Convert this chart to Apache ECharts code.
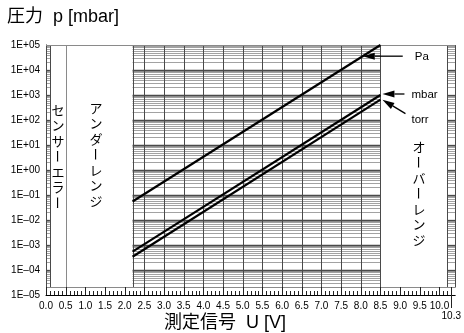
<!DOCTYPE html>
<html>
<head>
<meta charset="utf-8">
<script src="https://cdn.jsdelivr.net/npm/echarts@6/dist/echarts.min.js"></script>
<style>
  html, body { margin: 0; padding: 0; background: #fff; }
  #chart { width: 464px; height: 333px; }
</style>
</head>
<body>
<div id="chart"></div>
<script>
// Characteristic curves: measuring signal U [V] vs. pressure (end points of each line)
const signalU      = [2.2, 8.5];
const pressurePa   = [0.055, 1e5];
const pressureMbar = [5.4e-4, 1000];
const pressureTorr = [3.4e-4, 650];

// Axis tick labels
const xTickValues = [0, 0.5, 1, 1.5, 2, 2.5, 3, 3.5, 4, 4.5, 5, 5.5, 6, 6.5, 7, 7.5, 8, 8.5, 9, 9.5, 10, 10.3];
const xTickLabels = ['0.0', '0.5', '1.0', '1.5', '2.0', '2.5', '3.0', '3.5', '4.0', '4.5', '5.0', '5.5',
                     '6.0', '6.5', '7.0', '7.5', '8.0', '8.5', '9.0', '9.5', '10.0', '10.3'];
const yTickExponents = [-5, -4, -3, -2, -1, 0, 1, 2, 3, 4, 5];
const yTickLabels = ['1E–05', '1E–04', '1E–03', '1E–02', '1E–01', '1E+00',
                     '1E+01', '1E+02', '1E+03', '1E+04', '1E+05'];

// Measuring ranges along U
const sensorErrorEnd = 0.5;
const measureRange = [2.2, 8.5];
const gridStrips = [[0, 0.1], [2.2, 8.5], [10.2, 10.4]];
const uMax = 10.4;
const pMin = 1e-5, pMax = 1e5, pBox = 2e-5;

const FONT_LATIN = '"Liberation Sans Narrow", "Liberation Sans", Arial, sans-serif';
const FONT_JP = '"Liberation Sans", "Noto Sans CJK JP", sans-serif';

const chart = echarts.init(document.getElementById('chart'), null, { renderer: 'canvas' });

function lerpLog(us, ps, u) {
  const t = (u - us[0]) / (us[1] - us[0]);
  return Math.pow(10, Math.log10(ps[0]) + t * (Math.log10(ps[1]) - Math.log10(ps[0])));
}

// Grid pattern, border box and x-axis ticks
function renderGrid(params, api) {
  const ch = [];
  const P = (u, p) => api.coord([u, p]);
  const crisp = v => Math.round(v) + 0.5;
  const hline = (u0, u1, p, color, w) => {
    const a = P(u0, p), b = P(u1, p), y = crisp(a[1]);
    ch.push({ type: 'line', shape: { x1: a[0], y1: y, x2: b[0], y2: y },
              style: { stroke: color, lineWidth: w } });
  };
  const vline = (u, p0, p1, color, w) => {
    const a = P(u, p0), b = P(u, p1), x = crisp(a[0]);
    ch.push({ type: 'line', shape: { x1: x, y1: a[1], x2: x, y2: b[1] },
              style: { stroke: color, lineWidth: w } });
  };
  const minorColor = '#a2a2a2', majorColor = '#4a4a4a';
  gridStrips.forEach(([u0, u1]) => {
    for (let e = -5; e < 5; e++) {
      for (let k = 2; k <= 9; k++) {
        const p = k * Math.pow(10, e);
        if (p <= pBox) continue;
        hline(u0, u1, p, minorColor, 1);
      }
    }
    for (let e = -4; e < 5; e++) hline(u0, u1, Math.pow(10, e), majorColor, 1.3);
    vline(u0, pBox, pMax, majorColor, 1);
    vline(u1, pBox, pMax, majorColor, 1);
  });
  for (let u = 2.5; u < measureRange[1]; u += 0.5) vline(u, pBox, pMax, majorColor, 1);
  vline(sensorErrorEnd, pBox, pMax, '#8a8a8a', 1);
  hline(0, uMax, pMax, '#8a8a8a', 1);
  hline(0, uMax, pBox, '#8a8a8a', 1);

  // x-axis ticks every 0.1 V, longer every 0.5 V
  for (let i = 0; i <= 103; i++) {
    const a = P(i / 10, pMin), x = crisp(a[0]);
    const len = i % 5 === 0 ? 8 : 4;
    ch.push({ type: 'line', shape: { x1: x, y1: a[1], x2: x, y2: a[1] - len },
              style: { stroke: '#222', lineWidth: 1 } });
  }
  const e = P(10.3, pMin), xe = crisp(e[0]);
  ch.push({ type: 'line', shape: { x1: xe, y1: e[1] - 8, x2: xe, y2: e[1] + 13 },
            style: { stroke: '#222', lineWidth: 1 } });
  return { type: 'group', children: ch };
}

// Arrows pointing at the curves
const annotations = [
  { text: 'Pa',   u: 8.05, data: pressurePa,   tip: [0, 0],  tail: [40, 0],  label: [52, 1] },
  { text: 'mbar', u: 8.5,  data: pressureMbar, tip: [2, -1], tail: [24, -1], label: [31, 0] },
  { text: 'torr', u: 8.5,  data: pressureTorr, tip: [2, 0],  tail: [25, 14], label: [31, 20] }
];
function renderArrows(params, api) {
  const ch = [];
  annotations.forEach(a => {
    const base = api.coord([a.u, lerpLog(signalU, a.data, a.u)]);
    const tip = [base[0] + a.tip[0], base[1] + a.tip[1]];
    const tail = [base[0] + a.tail[0], base[1] + a.tail[1]];
    const dx = tip[0] - tail[0], dy = tip[1] - tail[1];
    const L = Math.hypot(dx, dy), ux = dx / L, uy = dy / L;
    const hl = 12, hw = 3.5;
    const bx = tip[0] - ux * hl, by = tip[1] - uy * hl;
    ch.push({ type: 'line', shape: { x1: tail[0], y1: tail[1], x2: bx, y2: by },
              style: { stroke: '#000', lineWidth: 1.3 } });
    ch.push({ type: 'polygon', shape: { points: [tip, [bx - uy * hw, by + ux * hw], [bx + uy * hw, by - ux * hw]] },
              style: { fill: '#000' } });
    ch.push({ type: 'text', x: base[0] + a.label[0], y: base[1] + a.label[1],
              style: { text: a.text, font: '11.5px "Liberation Sans", Arial, sans-serif',
                       fill: '#000', align: 'left', verticalAlign: 'middle' } });
  });
  return { type: 'group', children: ch };
}

// Vertical Japanese captions for the ranges
const rangeCaptions = [
  { text: 'センサーエラー', x: 58,  y: 102 },
  { text: 'アンダーレンジ', x: 96,  y: 100 },
  { text: 'オーバーレンジ', x: 419, y: 139 }
];
const captionStep = 15.5;
const captionGraphics = [];
rangeCaptions.forEach(c => {
  Array.from(c.text).forEach((chr, i) => {
    captionGraphics.push({
      type: 'text', x: c.x, y: c.y + captionStep / 2 + i * captionStep,
      rotation: chr === 'ー' ? -Math.PI / 2 : 0,
      style: { text: chr, font: '13px "Noto Sans CJK JP", sans-serif', fill: '#000',
               align: 'center', verticalAlign: 'middle' }
    });
  });
});

const option = {
  animation: false,
  grid: { left: 46, right: 3, top: 45, bottom: 38 },
  xAxis: {
    type: 'value', min: 0, max: uMax, interval: 0.1,
    axisLine: { show: true, lineStyle: { color: '#000', width: 1 } },
    axisTick: { show: false },
    splitLine: { show: false },
    axisLabel: {
      interval: 0, margin: 6, color: '#000', fontSize: 10, lineHeight: 10,
      fontFamily: FONT_LATIN,
      formatter: v => {
        const i = xTickValues.findIndex(t => Math.abs(t - v) < 1e-6);
        if (i < 0) return '';
        return xTickValues[i] === 10.3 ? '\n' + xTickLabels[i] : xTickLabels[i];
      }
    }
  },
  yAxis: {
    type: 'log', logBase: 10, min: pMin, max: pMax, interval: 1,
    axisLine: { show: true, lineStyle: { color: '#000', width: 1 } },
    axisTick: { show: false },
    splitLine: { show: false },
    minorTick: { show: false },
    axisLabel: {
      margin: 6, color: '#000', fontSize: 10, fontFamily: FONT_LATIN,
      formatter: v => {
        const i = yTickExponents.indexOf(Math.round(Math.log10(v)));
        return i < 0 ? '' : yTickLabels[i];
      }
    }
  },
  graphic: [
    { type: 'text', left: 7, top: 8,
      style: { text: '圧力  p [mbar]', font: '18px ' + FONT_JP, fill: '#000' } },
    { type: 'text', x: 225, y: 323,
      style: { text: '測定信号  U [V]', font: '18px ' + FONT_JP, fill: '#000',
               align: 'center', verticalAlign: 'middle' } },
    ...captionGraphics
  ],
  series: [
    { type: 'custom', name: 'grid', renderItem: renderGrid, data: [[1, 1]], silent: true, z: 1, clip: false },
    { type: 'line', name: 'Pa', data: signalU.map((u, i) => [u, pressurePa[i]]),
      symbol: 'none', lineStyle: { color: '#000', width: 2.2 }, z: 3, silent: true },
    { type: 'line', name: 'mbar', data: signalU.map((u, i) => [u, pressureMbar[i]]),
      symbol: 'none', lineStyle: { color: '#000', width: 2.2 }, z: 3, silent: true },
    { type: 'line', name: 'torr', data: signalU.map((u, i) => [u, pressureTorr[i]]),
      symbol: 'none', lineStyle: { color: '#000', width: 2.2 }, z: 3, silent: true },
    { type: 'custom', name: 'arrows', renderItem: renderArrows, data: [[1, 1]], silent: true, z: 4, clip: false }
  ]
};
chart.setOption(option);
</script>
</body>
</html>
